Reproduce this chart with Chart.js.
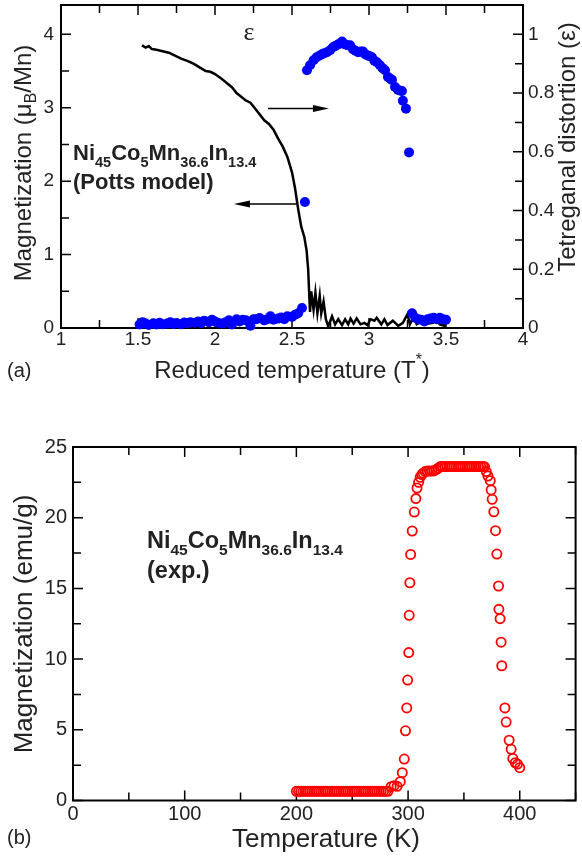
<!DOCTYPE html>
<html>
<head>
<meta charset="utf-8">
<script src="https://cdn.jsdelivr.net/npm/chart.js@4.4.0/dist/chart.umd.min.js"></script>
<style>
  body { margin: 0; background: #fff; }
  canvas { position: absolute; left: 0; }
</style>
</head>
<body>
<canvas id="potts" width="582" height="400" style="top:0"></canvas>
<canvas id="expt" width="582" height="456" style="top:400px"></canvas>
<script>
// (a) Potts model: magnetization (left axis) and tetragonal distortion (right axis)
const pottsT = [1.526, 1.55, 1.57, 1.59, 1.62, 1.66, 1.70, 1.74, 1.78, 1.82, 1.86, 1.90, 1.94, 1.97, 2.00,
  2.04, 2.08, 2.11, 2.14, 2.17, 2.20, 2.23, 2.26, 2.29, 2.32, 2.35, 2.38, 2.41, 2.44, 2.47, 2.50, 2.52,
  2.54, 2.56, 2.58, 2.595, 2.605, 2.612, 2.617, 2.625, 2.64, 2.652, 2.665, 2.68, 2.69, 2.705, 2.72, 2.735,
  2.76, 2.78, 2.80, 2.825, 2.845, 2.865, 2.88, 2.90, 2.92, 2.945, 2.97, 2.99, 3.01, 3.035, 3.05, 3.08,
  3.10, 3.12, 3.155, 3.19, 3.22, 3.25, 3.265, 3.29, 3.31, 3.345, 3.38, 3.415, 3.44, 3.46, 3.49, 3.50];
const pottsM = [3.85, 3.82, 3.84, 3.80, 3.79, 3.77, 3.75, 3.71, 3.67, 3.64, 3.60, 3.55, 3.50, 3.49, 3.46,
  3.40, 3.33, 3.28, 3.20, 3.15, 3.10, 3.07, 2.99, 2.91, 2.83, 2.78, 2.70, 2.58, 2.47, 2.33, 2.12, 1.90,
  1.62, 1.38, 1.24, 1.05, 0.80, 0.45, 0.22, 0.50, 0.25, 0.48, 0.20, 0.44, 0.20, 0.36, 0.12, 0.02,
  0.16, 0.05, 0.12, 0.04, 0.12, 0.05, 0.13, 0.06, 0.13, 0.05, 0.07, 0.04, 0.12, 0.10, 0.14, 0.05,
  0.12, 0.04, 0.10, 0.03, 0.07, 0.19, 0.05, 0.15, 0.05, 0.09, 0.06, 0.07, 0.10, 0.05, 0.03, 0.14];

const epsT = [1.51, 1.53, 1.55, 1.57, 1.60, 1.62, 1.64, 1.66, 1.69, 1.71, 1.73, 1.75, 1.78, 1.80, 1.82,
  1.84, 1.87, 1.89, 1.91, 1.93, 1.96, 1.98, 2.00, 2.02, 2.05, 2.07, 2.09, 2.11, 2.14, 2.16, 2.18, 2.20,
  2.23, 2.25, 2.27, 2.29, 2.32, 2.34, 2.36, 2.38, 2.41, 2.43, 2.45, 2.47, 2.50, 2.52, 2.54, 2.565, 2.584,
  2.597, 2.617, 2.64, 2.66, 2.68, 2.695, 2.71, 2.727, 2.747, 2.766, 2.78, 2.80, 2.825, 2.844, 2.86, 2.877,
  2.896, 2.912, 2.929, 2.945, 2.96, 2.975, 2.987, 3.003, 3.019, 3.035, 3.052, 3.071, 3.088, 3.104, 3.123,
  3.136, 3.149, 3.169, 3.188, 3.205, 3.214, 3.22, 3.24, 3.26,
  3.28, 3.30, 3.32, 3.34, 3.36, 3.38, 3.40, 3.42, 3.44, 3.46, 3.48, 3.50];
const epsV = [0.012, 0.02, 0.015, 0.01, 0.016, 0.012, 0.018, 0.013, 0.015, 0.02, 0.014, 0.017, 0.013, 0.019, 0.016,
  0.02, 0.018, 0.022, 0.016, 0.025, 0.02, 0.028, 0.022, 0.018, 0.015, 0.02, 0.026, 0.012, 0.03, 0.022, 0.028, 0.026,
  0.008, 0.03, 0.03, 0.034, 0.026, 0.03, 0.04, 0.028, 0.032, 0.036, 0.03, 0.04, 0.038, 0.045, 0.05, 0.068, 0.429,
  0.878, 0.895, 0.912, 0.922, 0.928, 0.932, 0.936, 0.939, 0.946, 0.956, 0.96, 0.966, 0.976, 0.966, 0.963, 0.963,
  0.949, 0.944, 0.939, 0.942, 0.942, 0.932, 0.929, 0.926, 0.922, 0.91, 0.905, 0.895, 0.885, 0.878, 0.855,
  0.85, 0.845, 0.821, 0.811, 0.808, 0.807, 0.774, 0.747, 0.598,
  0.05, 0.035, 0.03, 0.028, 0.022, 0.03, 0.032, 0.035, 0.03, 0.035, 0.03, 0.028];

const redTempTicks = [1, 1.25, 1.5, 1.75, 2, 2.25, 2.5, 2.75, 3, 3.25, 3.5, 3.75, 4];
const momentTicks = [0, 0.5, 1, 1.5, 2, 2.5, 3, 3.5, 4];
const epsTicks = [0, 0.1, 0.2, 0.3, 0.4, 0.5, 0.6, 0.7, 0.8, 0.9, 1];

// (b) experiment: magnetization vs temperature
const expK = [200, 202, 204, 206, 208, 210, 212, 214, 216, 218, 220, 222, 224, 226, 228, 230, 232, 234, 236,
  238, 240, 242, 244, 246, 248, 250, 252, 254, 256, 258, 260, 262, 264, 266, 268, 270, 272, 274, 276, 278,
  280, 282, 284.8, 287.5, 290.2, 293, 294.8, 296.6, 297.7, 298.8, 299.6, 300.6, 301, 301.6, 302.3, 303.7,
  305.6, 307, 308, 309.4, 310.9, 312.3, 313.5, 315.3, 317.2, 319.2, 321.2, 323.2, 325.2, 327,
  329, 331, 333, 335, 337, 339, 341, 343, 345, 347, 349, 351, 353, 355, 357, 359, 361, 363, 365, 367,
  368.5, 370, 371.5, 373.6, 374.4, 375.3, 376.8, 378.3, 379.5, 381, 381.3, 382.4, 383.3, 383.9,
  386.7, 387.8, 390.5, 392.3, 393.8, 396, 398, 400];
const expM = [0.65, 0.65, 0.65, 0.65, 0.65, 0.65, 0.65, 0.65, 0.65, 0.65, 0.65, 0.65, 0.65, 0.65, 0.65, 0.65,
  0.65, 0.65, 0.65, 0.65, 0.65, 0.65, 0.65, 0.65, 0.65, 0.65, 0.65, 0.65, 0.65, 0.65, 0.65, 0.65, 0.65, 0.65,
  0.65, 0.65, 0.65, 0.65, 0.65, 0.65, 0.65, 0.65, 0.98, 1.05, 1.0, 1.33, 1.97, 2.93, 4.93, 6.55, 8.52, 10.46,
  13.1, 15.4, 17.4, 19.06, 20.4, 21.35, 22.1, 22.5, 22.86, 23.05, 23.15, 23.26, 23.3, 23.3, 23.3, 23.32, 23.4, 23.5,
  23.62, 23.62, 23.62, 23.62, 23.62, 23.62, 23.62, 23.62, 23.62, 23.62, 23.62, 23.62, 23.62, 23.62, 23.62,
  23.62, 23.62, 23.62, 23.62, 23.62,
  23.6, 23.26, 22.95, 22.62, 21.96, 21.3, 20.42, 19.08, 17.43, 15.17, 13.52, 12.86, 11.2, 9.53,
  6.55, 5.55, 4.26, 3.62, 2.97, 2.67, 2.58, 2.32];

const kelvinTicks = [0, 50, 100, 150, 200, 250, 300, 350, 400, 450];
const emuTicks = [0, 2.5, 5, 7.5, 10, 12.5, 15, 17.5, 20, 22.5, 25];

const INK = "#222";
const SANS = '"Liberation Sans", Arial, Helvetica, sans-serif';

function pts(xs, ys) {
    return xs.map((x, i) => ({ x: x, y: ys[i] }));
}

// draw text made of pieces; shift 1 = subscript, -1 = superscript
function rich(ctx, parts, x, y, size, bold, align) {
    const font = s => (bold ? "bold " : "") + s + "px " + SANS;
    let w = 0;
    parts.forEach(([t, s]) => {
        ctx.font = font(s ? size * 0.66 : size);
        w += ctx.measureText(t).width;
    });
    let cx = align === "center" ? x - w / 2 : x;
    parts.forEach(([t, s]) => {
        ctx.font = font(s ? size * 0.66 : size);
        const dy = s === 1 ? size * 0.3 : (s === -1 ? -size * 0.55 : 0);
        ctx.fillText(t, cx, y + dy);
        cx += ctx.measureText(t).width;
    });
}

function rotated(ctx, parts, cx, cy, size) {
    ctx.save();
    ctx.translate(cx, cy);
    ctx.rotate(-Math.PI / 2);
    ctx.textBaseline = "middle";
    rich(ctx, parts, 0, 0, size, false, "center");
    ctx.restore();
}

function arrow(ctx, x1, y1, x2, y2) {
    const dir = Math.sign(x2 - x1);
    ctx.beginPath();
    ctx.moveTo(x1, y1);
    ctx.lineTo(x2 - dir * 10, y2);
    ctx.stroke();
    ctx.beginPath();
    ctx.moveTo(x2, y2);
    ctx.lineTo(x2 - dir * 16, y2 - 3.5);
    ctx.lineTo(x2 - dir * 16, y2 + 3.5);
    ctx.closePath();
    ctx.fill();
}

// inward tick marks plus the box round the plot
function frame(chart, xTicks, leftTicks, rightTicks, rightScale) {
    const { ctx, chartArea: a, scales } = chart;
    ctx.save();
    ctx.strokeStyle = "#000";
    ctx.lineWidth = 1.5;
    ctx.beginPath();
    xTicks.forEach((v, i) => {
        const len = i % 2 ? 8 : 10;
        const px = scales.x.getPixelForValue(v);
        ctx.moveTo(px, a.bottom); ctx.lineTo(px, a.bottom - len);
        ctx.moveTo(px, a.top); ctx.lineTo(px, a.top + len);
    });
    leftTicks.forEach((v, i) => {
        const len = i % 2 ? 8 : 10;
        const py = scales.y.getPixelForValue(v);
        ctx.moveTo(a.left, py); ctx.lineTo(a.left + len, py);
    });
    rightTicks.forEach((v, i) => {
        const len = i % 2 ? 8 : 10;
        const py = scales[rightScale].getPixelForValue(v);
        ctx.moveTo(a.right, py); ctx.lineTo(a.right - len, py);
    });
    ctx.stroke();
    ctx.lineWidth = 2;
    ctx.strokeRect(a.left, a.top, a.right - a.left, a.bottom - a.top);
    ctx.restore();
}

function fixedTicks(values) {
    return scale => { scale.ticks = values.map(v => ({ value: v })); };
}

function noPad(size, dim) {
    return scale => {
        scale[dim] = size;
        scale.paddingTop = 0; scale.paddingBottom = 0;
        scale.paddingLeft = 0; scale.paddingRight = 0;
    };
}

const everyOther = (v, i) => (i % 2 === 0 ? String(v) : "");

// ---------- panel (a) ----------
const pottsDecor = {
    id: "pottsDecor",
    beforeDatasetsDraw(chart) {
        frame(chart, redTempTicks, momentTicks, epsTicks, "y1");
    },
    afterDraw(chart) {
        const { ctx, scales } = chart;
        const x = scales.x, y = scales.y;
        ctx.save();
        ctx.fillStyle = INK;
        ctx.textBaseline = "alphabetic";
        rich(ctx, [["Reduced temperature (T", 0], ["*", -1], [")", 0]], 292, 378, 24, false, "center");
        ctx.font = "20px " + SANS;
        ctx.fillText("(a)", 7, 377);
        rotated(ctx, [["Magnetization (\u03bc", 0], ["B", 1], ["/Mn)", 0]], 24, 163, 24);
        rotated(ctx, [["Tetreganal distortion (\u03b5)", 0]], 568, 147, 24);

        rich(ctx, [["Ni", 0], ["45", 1], ["Co", 0], ["5", 1], ["Mn", 0], ["36.6", 1], ["In", 0], ["13.4", 1]],
            73, 160, 22, true, "left");
        rich(ctx, [["(Potts model)", 0]], 73, 189, 22, true, "left");

        ctx.font = '26px "Liberation Serif", "Times New Roman", serif';
        ctx.textAlign = "center";
        ctx.fillText("\u03b5", 249, 40);
        ctx.textAlign = "left";

        ctx.strokeStyle = "#000";
        ctx.fillStyle = "#000";
        ctx.lineWidth = 1.5;
        arrow(ctx, x.getPixelForValue(2.344), y.getPixelForValue(2.99), x.getPixelForValue(2.74), y.getPixelForValue(2.99));
        arrow(ctx, x.getPixelForValue(2.532), y.getPixelForValue(1.69), x.getPixelForValue(2.123), y.getPixelForValue(1.69));
        ctx.restore();
    }
};

new Chart(document.getElementById("potts"), {
    type: "scatter",
    data: {
        datasets: [
            {
                label: "Tetragonal distortion",
                data: pts(epsT, epsV),
                yAxisID: "y1",
                backgroundColor: "#0000ff",
                borderWidth: 0,
                pointRadius: 5,
                clip: false
            },
            {
                type: "line",
                label: "Magnetization",
                data: pts(pottsT, pottsM),
                yAxisID: "y",
                borderColor: "#000",
                borderWidth: 2.5,
                pointRadius: 0,
                tension: 0,
                fill: false
            }
        ]
    },
    options: {
        responsive: false,
        animation: false,
        layout: { padding: { top: 3, left: 0, right: 0, bottom: 0 } },
        plugins: { legend: { display: false }, tooltip: { enabled: false } },
        scales: {
            x: {
                type: "linear", min: 1, max: 4,
                afterBuildTicks: fixedTicks(redTempTicks),
                afterFit: noPad(72, "height"),
                grid: { display: false, drawTicks: false },
                border: { display: false },
                ticks: { autoSkip: false, maxRotation: 0, padding: 0, color: INK, font: { family: SANS, size: 19 }, callback: everyOther }
            },
            y: {
                type: "linear", min: 0, max: 4.4, position: "left",
                afterBuildTicks: fixedTicks(momentTicks),
                afterFit: noPad(61, "width"),
                grid: { display: false, drawTicks: false },
                border: { display: false },
                ticks: { autoSkip: false, padding: 7, color: INK, font: { family: SANS, size: 19 }, callback: everyOther }
            },
            y1: {
                type: "linear", min: 0, max: 1.1, position: "right",
                afterBuildTicks: fixedTicks(epsTicks),
                afterFit: noPad(59, "width"),
                grid: { display: false, drawTicks: false },
                border: { display: false },
                ticks: { autoSkip: false, padding: 5, color: INK, font: { family: SANS, size: 19 }, callback: everyOther }
            }
        }
    },
    plugins: [pottsDecor]
});

// ---------- panel (b) ----------
const exptDecor = {
    id: "exptDecor",
    beforeDatasetsDraw(chart) {
        frame(chart, kelvinTicks, emuTicks, emuTicks, "y");
    },
    afterDraw(chart) {
        const { ctx } = chart;
        ctx.save();
        ctx.fillStyle = INK;
        ctx.textBaseline = "alphabetic";
        rich(ctx, [["Temperature (K)", 0]], 326, 447, 26, false, "center");
        ctx.font = "20px " + SANS;
        ctx.fillText("(b)", 7, 444);
        rotated(ctx, [["Magnetization (emu/g)", 0]], 25, 224, 26);
        rich(ctx, [["Ni", 0], ["45", 1], ["Co", 0], ["5", 1], ["Mn", 0], ["36.6", 1], ["In", 0], ["13.4", 1]],
            147, 148, 23.5, true, "left");
        rich(ctx, [["(exp.)", 0]], 147, 178, 23.5, true, "left");
        ctx.restore();
    }
};

new Chart(document.getElementById("expt"), {
    type: "scatter",
    data: {
        datasets: [{
            label: "exp.",
            data: pts(expK, expM),
            borderColor: "#ff0000",
            backgroundColor: "rgba(0,0,0,0)",
            borderWidth: 1.8,
            pointRadius: 4.6,
            clip: false
        }]
    },
    options: {
        responsive: false,
        animation: false,
        layout: { padding: { top: 47, left: 0, right: 2, bottom: 0 } },
        plugins: { legend: { display: false }, tooltip: { enabled: false } },
        scales: {
            x: {
                type: "linear", min: 0, max: 450,
                afterBuildTicks: fixedTicks(kelvinTicks),
                afterFit: noPad(55.5, "height"),
                grid: { display: false, drawTicks: false },
                border: { display: false },
                ticks: { autoSkip: false, maxRotation: 0, padding: 2, color: INK, font: { family: SANS, size: 20 }, callback: everyOther }
            },
            y: {
                type: "linear", min: 0, max: 25,
                afterBuildTicks: fixedTicks(emuTicks),
                afterFit: noPad(73, "width"),
                grid: { display: false, drawTicks: false },
                border: { display: false },
                ticks: { autoSkip: false, padding: 6, color: INK, font: { family: SANS, size: 20 }, callback: everyOther }
            }
        }
    },
    plugins: [exptDecor]
});
</script>
</body>
</html>
